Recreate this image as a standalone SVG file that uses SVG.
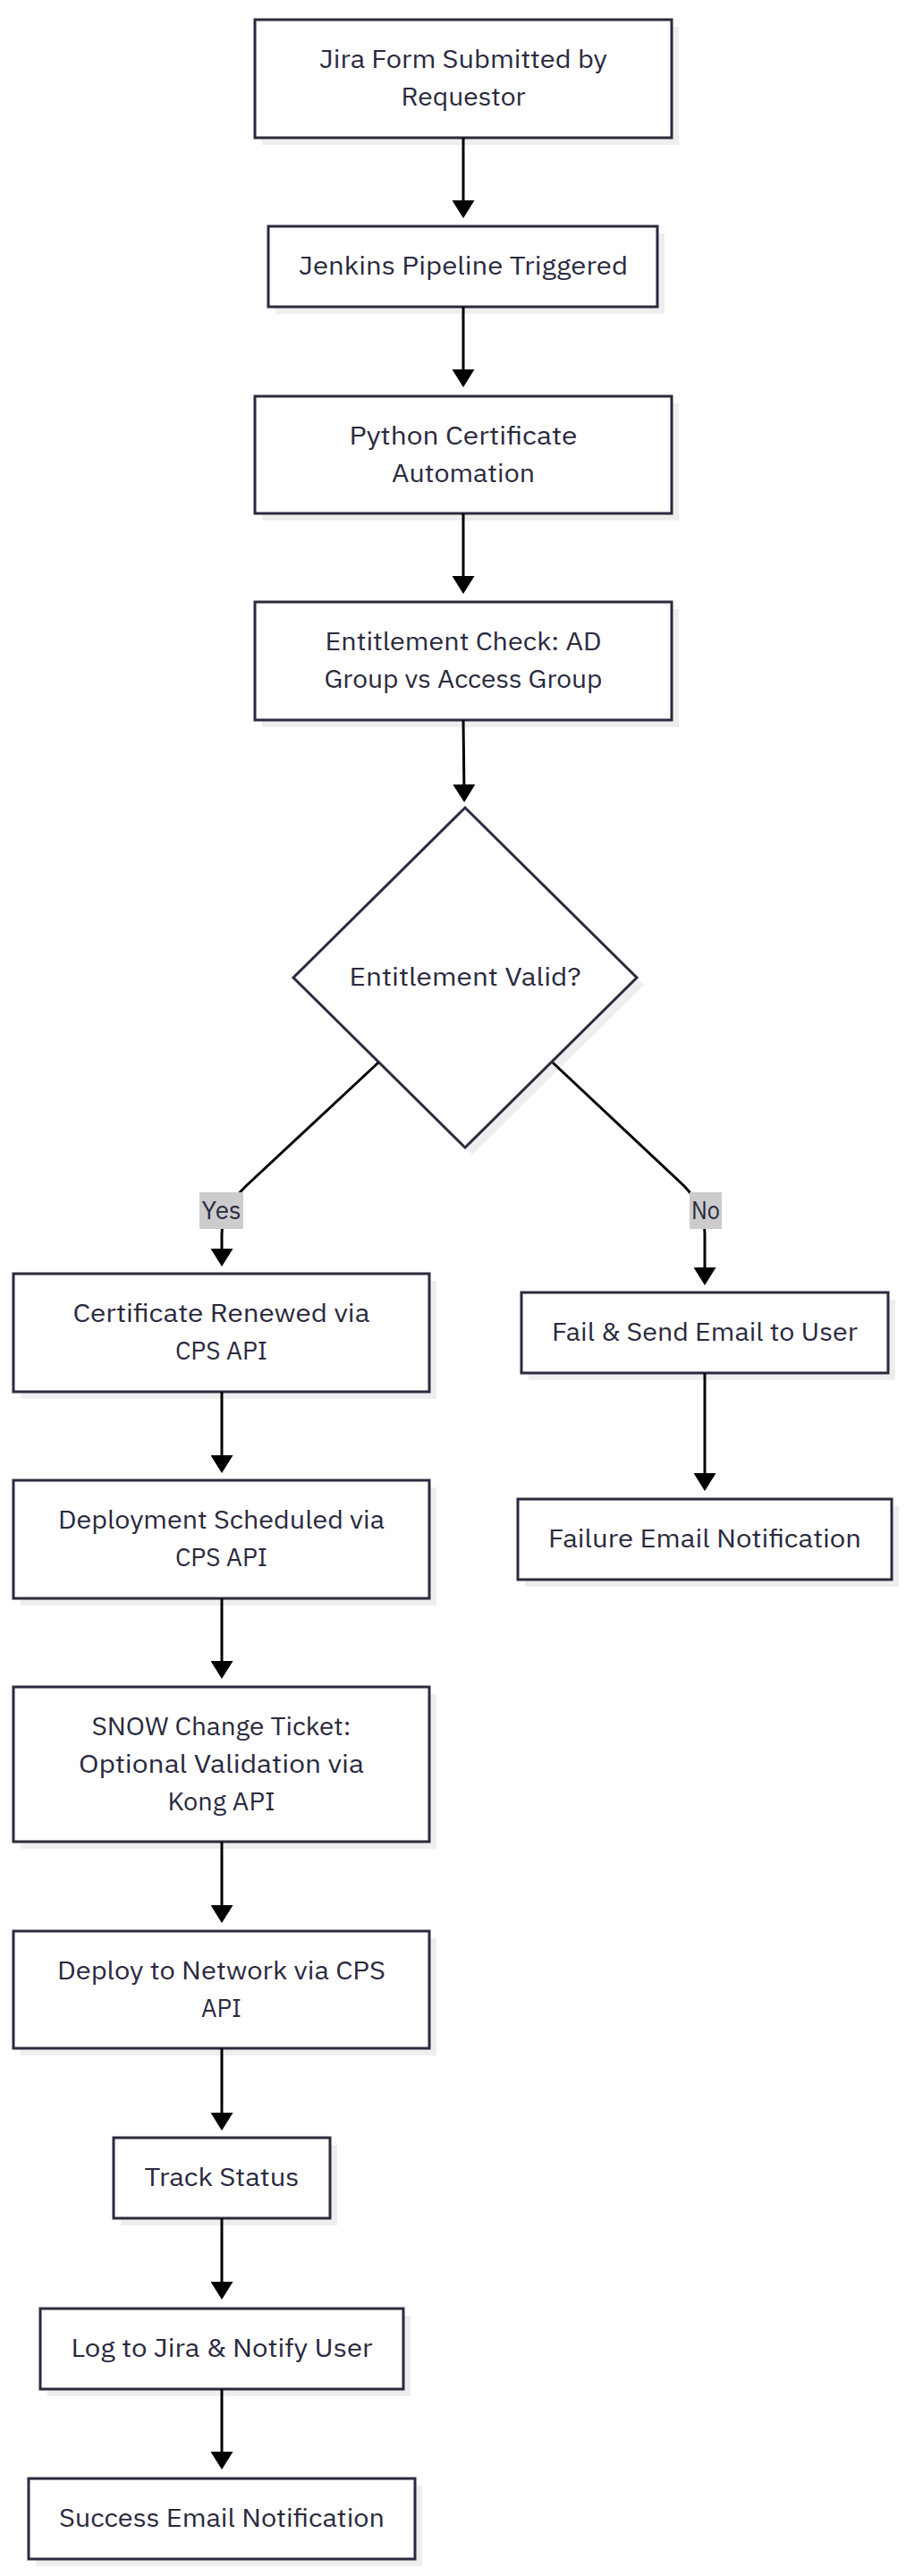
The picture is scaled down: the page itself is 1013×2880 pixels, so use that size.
<svg xmlns="http://www.w3.org/2000/svg" width="1013" height="2880" viewBox="0 0 1013 2880">
<defs>
<style>
.bg{fill:#ffffff}
.sh{fill:#eeeeee}
.nd{fill:#ffffff;stroke:#2b2b3f;stroke-width:3}
.t{font-family:"IBM Plex Sans","Noto Sans","Liberation Sans",sans-serif;font-size:28px;fill:#2a2a3e;text-anchor:middle}
.e{fill:none;stroke:#000000;stroke-width:3}
.lb{fill:#cccccc}
</style>
<marker id="ah" viewBox="0 0 20 25" markerWidth="20" markerHeight="25" refX="10" refY="12.5" orient="auto" markerUnits="userSpaceOnUse">
<path d="M0,0 L20,12.5 L0,25 z" fill="#000000"/>
</marker>
</defs>
<rect class="bg" x="0" y="0" width="1013" height="2880"/>

<g id="n1">
<rect class="sh" x="293" y="30" width="466" height="132"/>
<rect class="nd" x="285" y="22" width="466" height="132"/>
<text class="t" x="518" y="76" textLength="322" lengthAdjust="spacingAndGlyphs">Jira Form Submitted by</text>
<text class="t" x="518" y="118" textLength="139" lengthAdjust="spacingAndGlyphs">Requestor</text>
</g>
<g id="n2">
<rect class="sh" x="308" y="261" width="435" height="90"/>
<rect class="nd" x="300" y="253" width="435" height="90"/>
<text class="t" x="518" y="307" textLength="368" lengthAdjust="spacingAndGlyphs">Jenkins Pipeline Triggered</text>
</g>
<g id="n3">
<rect class="sh" x="293" y="451" width="466" height="131"/>
<rect class="nd" x="285" y="443" width="466" height="131"/>
<text class="t" x="518" y="496.5" textLength="255" lengthAdjust="spacingAndGlyphs">Python Certificate</text>
<text class="t" x="518" y="538.5" textLength="160" lengthAdjust="spacingAndGlyphs">Automation</text>
</g>
<g id="n4">
<rect class="sh" x="293" y="681" width="466" height="132"/>
<rect class="nd" x="285" y="673" width="466" height="132"/>
<text class="t" x="518" y="727" textLength="309" lengthAdjust="spacingAndGlyphs">Entitlement Check: AD</text>
<text class="t" x="518" y="769" textLength="311" lengthAdjust="spacingAndGlyphs">Group vs Access Group</text>
</g>
<g id="decision">
<polygon class="sh" points="528,911 720,1101 528,1291 336,1101"/>
<polygon class="nd" points="520,903 712,1093 520,1283 328,1093"/>
<text class="t" x="520" y="1102" textLength="259" lengthAdjust="spacingAndGlyphs">Entitlement Valid?</text>
</g>
<g id="l1">
<rect class="sh" x="23" y="1432" width="465" height="132"/>
<rect class="nd" x="15" y="1424" width="465" height="132"/>
<text class="t" x="247.5" y="1478" textLength="332" lengthAdjust="spacingAndGlyphs">Certificate Renewed via</text>
<text class="t" x="247.5" y="1520" textLength="103" lengthAdjust="spacingAndGlyphs">CPS API</text>
</g>
<g id="l2">
<rect class="sh" x="23" y="1663" width="465" height="132"/>
<rect class="nd" x="15" y="1655" width="465" height="132"/>
<text class="t" x="247.5" y="1709" textLength="365" lengthAdjust="spacingAndGlyphs">Deployment Scheduled via</text>
<text class="t" x="247.5" y="1751" textLength="103" lengthAdjust="spacingAndGlyphs">CPS API</text>
</g>
<g id="l3">
<rect class="sh" x="23" y="1894" width="465" height="173"/>
<rect class="nd" x="15" y="1886" width="465" height="173"/>
<text class="t" x="247.5" y="1940" textLength="290" lengthAdjust="spacingAndGlyphs">SNOW Change Ticket:</text>
<text class="t" x="247.5" y="1982" textLength="319" lengthAdjust="spacingAndGlyphs">Optional Validation via</text>
<text class="t" x="247.5" y="2024" textLength="120" lengthAdjust="spacingAndGlyphs">Kong API</text>
</g>
<g id="l4">
<rect class="sh" x="23" y="2167" width="465" height="131"/>
<rect class="nd" x="15" y="2159" width="465" height="131"/>
<text class="t" x="247.5" y="2212.5" textLength="367" lengthAdjust="spacingAndGlyphs">Deploy to Network via CPS</text>
<text class="t" x="247.5" y="2254.5" textLength="45" lengthAdjust="spacingAndGlyphs">API</text>
</g>
<g id="l5">
<rect class="sh" x="135" y="2398" width="242" height="90"/>
<rect class="nd" x="127" y="2390" width="242" height="90"/>
<text class="t" x="248" y="2444" textLength="173" lengthAdjust="spacingAndGlyphs">Track Status</text>
</g>
<g id="l6">
<rect class="sh" x="53" y="2589" width="406" height="90"/>
<rect class="nd" x="45" y="2581" width="406" height="90"/>
<text class="t" x="248" y="2635" textLength="337" lengthAdjust="spacingAndGlyphs">Log to Jira &amp; Notify User</text>
</g>
<g id="l7">
<rect class="sh" x="40" y="2779" width="432" height="90"/>
<rect class="nd" x="32" y="2771" width="432" height="90"/>
<text class="t" x="248" y="2825" textLength="364" lengthAdjust="spacingAndGlyphs">Success Email Notification</text>
</g>
<g id="r1">
<rect class="sh" x="591" y="1453" width="410" height="90"/>
<rect class="nd" x="583" y="1445" width="410" height="90"/>
<text class="t" x="788" y="1499" textLength="342" lengthAdjust="spacingAndGlyphs">Fail &amp; Send Email to User</text>
</g>
<g id="r2">
<rect class="sh" x="587" y="1684" width="418" height="90"/>
<rect class="nd" x="579" y="1676" width="418" height="90"/>
<text class="t" x="788" y="1730" textLength="350" lengthAdjust="spacingAndGlyphs">Failure Email Notification</text>
</g>

<g id="edges">
<path class="e" d="M518,154 L518,234" marker-end="url(#ah)"/>
<path class="e" d="M518,343 L518,423" marker-end="url(#ah)"/>
<path class="e" d="M518,574 L518,654" marker-end="url(#ah)"/>
<path class="e" d="M518,805 L519,887" marker-end="url(#ah)"/>
<path class="e" d="M423,1188 L275,1326 Q248,1352 248,1380 L248,1406" marker-end="url(#ah)"/>
<path class="e" d="M618,1188 L765,1326 Q788,1350 788,1380 L788,1427" marker-end="url(#ah)"/>
<path class="e" d="M248,1556 L248,1637" marker-end="url(#ah)"/>
<path class="e" d="M248,1787 L248,1867" marker-end="url(#ah)"/>
<path class="e" d="M248,2059 L248,2140" marker-end="url(#ah)"/>
<path class="e" d="M248,2290 L248,2372" marker-end="url(#ah)"/>
<path class="e" d="M248,2480 L248,2561" marker-end="url(#ah)"/>
<path class="e" d="M248,2671 L248,2751" marker-end="url(#ah)"/>
<path class="e" d="M788,1535 L788,1657" marker-end="url(#ah)"/>
<g id="label-yes">
<rect class="lb" x="223" y="1333" width="49" height="41"/>
<text class="t" x="247.5" y="1363" textLength="44" lengthAdjust="spacingAndGlyphs">Yes</text>
</g>
<g id="label-no">
<rect class="lb" x="771" y="1333" width="36" height="41"/>
<text class="t" x="789" y="1363" textLength="32" lengthAdjust="spacingAndGlyphs">No</text>
</g>
</g>
</svg>
